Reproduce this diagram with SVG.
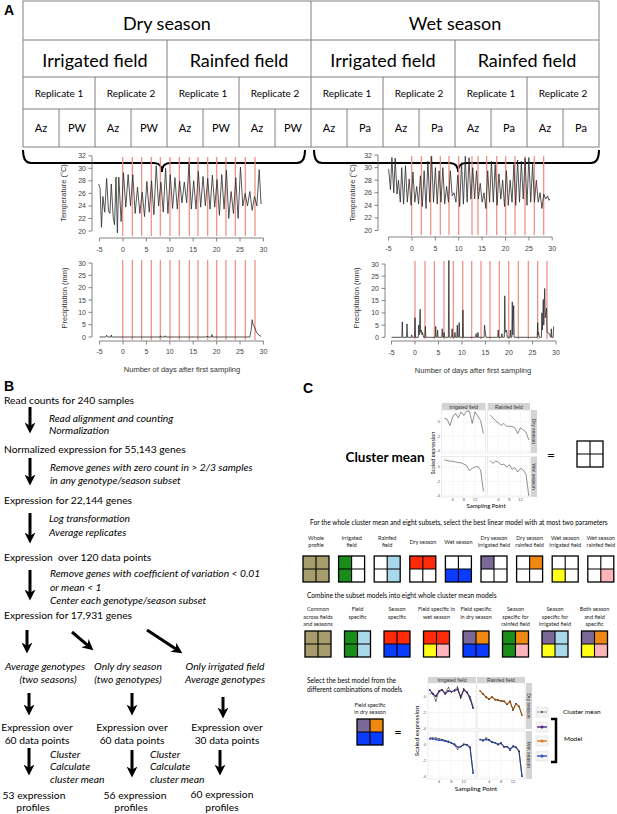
<svg xmlns="http://www.w3.org/2000/svg" width="617" height="814" viewBox="0 0 617 814">
<defs>
<style>
text{font-family:Lato,"Liberation Sans",sans-serif;fill:#000}
.grid-line{stroke:#808080;stroke-width:1;fill:none}
.h{font-size:18px;text-anchor:middle}
.rep{font-size:10px;text-anchor:middle}
.gen{font-size:11px;text-anchor:middle}
.brace{fill:none;stroke:#000;stroke-width:2}
.axis{stroke:#666;stroke-width:0.8;fill:none}
.tkr{font-family:"Liberation Sans",Arial,sans-serif;font-size:7px;fill:#444;text-anchor:end}
.tkm{font-family:"Liberation Sans",Arial,sans-serif;font-size:7px;fill:#444;text-anchor:middle}
.at{font-family:"Liberation Sans",Arial,sans-serif;font-size:7.5px;fill:#333;text-anchor:middle}
.samp{stroke:#f08a7a;stroke-width:1.2}
.data{fill:none;stroke:#2a2a2a;stroke-width:0.8;vector-effect:non-scaling-stroke;stroke-linejoin:round}
.bt{font-size:10.3px}
.bi{font-size:10.3px;font-style:italic}
.bc{font-size:10.3px;text-anchor:middle}
.bic{font-size:10.3px;font-style:italic;text-anchor:middle}
.arrow{stroke:#000;stroke-width:3;fill:none;marker-end:url(#ah)}
.letter{font-family:"Liberation Sans",Arial,sans-serif;font-weight:bold;font-size:14px}
.cs{font-size:6.6px}
.lab{font-size:5.5px;text-anchor:middle;fill:#222}
.kh{fill:#a79d6c}.gr{fill:#1a8c1a}.lb{fill:#a8d8ea}.rd{fill:#ff2a0a}.bl{fill:#0a3cff}
.pu{fill:#7a6898}.or{fill:#ee8810}.ye{fill:#ffff1a}.pk{fill:#ffb3ba}.wh{fill:#fff}
.strip{fill:#d4d4d4}
.panel{fill:#fff;stroke:#d8d8d8;stroke-width:0.5}
.fg{stroke:#ececec;stroke-width:0.5}
.ft{font-family:"Liberation Sans",Arial,sans-serif;font-size:4px;fill:#555}
.fs{font-family:"Liberation Sans",Arial,sans-serif;font-size:5px;fill:#333;text-anchor:middle}
.cm{fill:none;stroke:#444;stroke-width:0.6}
</style>
<marker id="ah" viewBox="0 0 10 10" refX="5" refY="5" markerWidth="11" markerHeight="11" markerUnits="userSpaceOnUse" orient="auto">
<path d="M0,0 L10,5 L0,10 L3,5 z" fill="#000"/>
</marker>
<marker id="dk" viewBox="0 0 2 2" refX="1" refY="1" markerWidth="1.4" markerHeight="1.4" markerUnits="userSpaceOnUse"><circle cx="1" cy="1" r="1" fill="#333"/></marker>
<marker id="dp" viewBox="0 0 2 2" refX="1" refY="1" markerWidth="2" markerHeight="2" markerUnits="userSpaceOnUse"><circle cx="1" cy="1" r="1" fill="#4a2a82"/></marker>
<marker id="do" viewBox="0 0 2 2" refX="1" refY="1" markerWidth="2" markerHeight="2" markerUnits="userSpaceOnUse"><circle cx="1" cy="1" r="1" fill="#e07a1c"/></marker>
<marker id="db" viewBox="0 0 2 2" refX="1" refY="1" markerWidth="2" markerHeight="2" markerUnits="userSpaceOnUse"><circle cx="1" cy="1" r="1" fill="#3450c0"/></marker>
<g id="sqgrid">
<rect x="0" y="0" width="26" height="26" fill="none" stroke="#000" stroke-width="1.3"/>
<path d="M13,0V26M0,13H26" stroke="#000" stroke-width="1.1"/>
</g>
</defs>

<rect x="0" y="0" width="617" height="814" fill="#fff"/>

<!-- ===== Panel A ===== -->
<text class="letter" x="4" y="15">A</text>
<g id="sample-table">
<rect x="23" y="1" width="576" height="146" fill="#fff" class="grid-line"/>
<path class="grid-line" d="M23,40H599M23,77H599M23,109H599M311,1V147M167,40V147M455,40V147M95,77V147M239,77V147M383,77V147M527,77V147M59,109V147M131,109V147M203,109V147M275,109V147M347,109V147M419,109V147M491,109V147M563,109V147"/>
<text class="h" x="167" y="30">Dry season</text>
<text class="h" x="455" y="30">Wet season</text>
<text class="h" x="95" y="67">Irrigated field</text>
<text class="h" x="239" y="67">Rainfed field</text>
<text class="h" x="383" y="67">Irrigated field</text>
<text class="h" x="527" y="67">Rainfed field</text>
<text class="rep" x="59" y="97">Replicate 1</text>
<text class="rep" x="131" y="97">Replicate 2</text>
<text class="rep" x="203" y="97">Replicate 1</text>
<text class="rep" x="275" y="97">Replicate 2</text>
<text class="rep" x="347" y="97">Replicate 1</text>
<text class="rep" x="419" y="97">Replicate 2</text>
<text class="rep" x="491" y="97">Replicate 1</text>
<text class="rep" x="563" y="97">Replicate 2</text>
<text class="gen" x="41" y="132">Az</text><text class="gen" x="77" y="132">PW</text>
<text class="gen" x="113" y="132">Az</text><text class="gen" x="149" y="132">PW</text>
<text class="gen" x="185" y="132">Az</text><text class="gen" x="221" y="132">PW</text>
<text class="gen" x="257" y="132">Az</text><text class="gen" x="293" y="132">PW</text>
<text class="gen" x="329" y="132">Az</text><text class="gen" x="365" y="132">Pa</text>
<text class="gen" x="401" y="132">Az</text><text class="gen" x="437" y="132">Pa</text>
<text class="gen" x="473" y="132">Az</text><text class="gen" x="509" y="132">Pa</text>
<text class="gen" x="545" y="132">Az</text><text class="gen" x="581" y="132">Pa</text>
</g>
<g id="braces">
<path class="brace" d="M23,150 Q23,163 31,163 L154,163 Q162,163 162,172 Q162,163 170,163 L297,163 Q305,163 305,150"/>
<path class="brace" d="M314,150 Q314,163 322,163 L450,163 Q458,163 458,172 Q458,163 466,163 L591,163 Q599,163 599,150"/>
</g>

<!-- Left temperature plot -->
<g id="dry-temperature">
<path class="samp" d="M122.7,157V236M132.3,157V236M141.7,157V236M151.3,157V236M160.3,157V236M170,157V236M179.3,157V236M189.3,157V236M198,157V236M207.7,157V236M216.7,157V236M226,157V236M235.3,157V236M245.3,157V236M255,157V236"/>
<g transform="translate(123,231) scale(4.68,-6.27)">
<polyline class="data" points="-5.2,7.5 -4.9,6.8 -4.6,0.6 -4.3,5.5 -3.9,3.0 -3.5,8.4 -3.1,3.2 -2.8,2.8 -2.5,7.5 -2.1,2.2 -1.8,1.0 -1.5,8.6 -1.2,-0.3 -0.9,8.6 -0.4,1.5 0.1,9.3 0.6,3.8 1.1,9.0 1.6,4.0 2.1,9.0 2.6,2.8 3.1,7.0 3.6,2.8 4.1,6.2 4.6,2.3 5.1,7.9 5.6,3.0 6.1,8.0 6.6,2.6 7.1,10.4 7.6,4.0 8.1,7.8 8.6,3.0 9.1,10.0 9.6,2.8 10.1,9.0 10.6,3.6 11.1,8.5 11.6,3.5 12.1,8.0 12.6,4.5 13.1,7.8 13.6,4.5 14.1,10.7 14.6,3.5 15.1,8.0 15.6,3.5 16.1,9.5 16.6,3.8 17.1,8.7 17.6,4.0 18.1,8.4 18.6,3.5 19.1,8.9 19.6,3.8 20.1,8.2 20.6,2.5 21.1,9.0 21.6,3.5 22.1,9.7 22.6,2.0 23.1,6.3 23.6,2.8 24.1,8.5 24.6,2.0 25.1,10.2 25.6,4.0 26.1,6.0 26.6,4.0 27.1,6.3 27.6,3.3 28.1,5.5 28.6,4.0 29.1,9.8 29.5,4.3"/>
</g>
<path class="axis" d="M92,231V155.8M92,231h-3.5M92,218.5h-3.5M92,205.9h-3.5M92,193.4h-3.5M92,180.8h-3.5M92,168.3h-3.5M92,155.8h-3.5"/>
<text class="tkr" x="86" y="233.5">20</text><text class="tkr" x="86" y="221">22</text><text class="tkr" x="86" y="208.4">24</text><text class="tkr" x="86" y="195.9">26</text><text class="tkr" x="86" y="183.3">28</text><text class="tkr" x="86" y="170.8">30</text><text class="tkr" x="86" y="158.3">32</text>
<path class="axis" d="M99.6,238H263.4M99.6,238v3.5M123,238v3.5M146.4,238v3.5M169.8,238v3.5M193.2,238v3.5M216.6,238v3.5M240,238v3.5M263.4,238v3.5"/>
<text class="tkm" x="99.6" y="252">-5</text><text class="tkm" x="123" y="252">0</text><text class="tkm" x="146.4" y="252">5</text><text class="tkm" x="169.8" y="252">10</text><text class="tkm" x="193.2" y="252">15</text><text class="tkm" x="216.6" y="252">20</text><text class="tkm" x="240" y="252">25</text><text class="tkm" x="263.4" y="252">30</text>
<text class="at" transform="translate(66,193) rotate(-90)">Temperature (°C)</text>
</g>

<!-- Left precipitation plot -->
<g id="dry-precipitation">
<path class="samp" d="M122.7,260V340M132.3,260V340M141.7,260V340M151.3,260V340M160.3,260V340M170,260V340M179.3,260V340M189.3,260V340M198,260V340M207.7,260V340M216.7,260V340M226,260V340M235.3,260V340M245.3,260V340M255,260V340"/>
<g transform="translate(123,337) scale(4.68,-2.47)">
<polyline class="data" points="-5,0 -3.7,0 -3.5,0.7 -3.3,0 -2.6,0 -2.5,0.8 -2.4,0 7.9,0 8.0,0.5 8.1,0 8.9,0 9.0,0.5 9.1,0 17.9,0 18,0.4 18.1,0 18.9,0 19.0,1.0 19.1,0 27.1,0 27.4,3 27.6,7 27.8,5 28.1,4 28.5,2 29.0,0.8 29.5,0.2"/>
</g>
<path class="axis" d="M92,337V263M92,337h-3.5M92,324.7h-3.5M92,312.3h-3.5M92,300h-3.5M92,287.7h-3.5M92,275.3h-3.5M92,263h-3.5"/>
<text class="tkr" x="86" y="339.5">0</text><text class="tkr" x="86" y="327.2">5</text><text class="tkr" x="86" y="314.8">10</text><text class="tkr" x="86" y="302.5">15</text><text class="tkr" x="86" y="290.2">20</text><text class="tkr" x="86" y="277.8">25</text><text class="tkr" x="86" y="265.5">30</text>
<path class="axis" d="M99.6,341H263.4M99.6,341v3.5M123,341v3.5M146.4,341v3.5M169.8,341v3.5M193.2,341v3.5M216.6,341v3.5M240,341v3.5M263.4,341v3.5"/>
<text class="tkm" x="99.6" y="354">-5</text><text class="tkm" x="123" y="354">0</text><text class="tkm" x="146.4" y="354">5</text><text class="tkm" x="169.8" y="354">10</text><text class="tkm" x="193.2" y="354">15</text><text class="tkm" x="216.6" y="354">20</text><text class="tkm" x="240" y="354">25</text><text class="tkm" x="263.4" y="354">30</text>
<text class="at" transform="translate(67,298) rotate(-90)">Precipitation (mm)</text>
<text class="at" x="182" y="372">Number of days after first sampling</text>
</g>

<!-- Right temperature plot -->
<g id="wet-temperature">
<path class="samp" d="M411.7,156V235M421.3,156V235M430.7,156V235M440.3,156V235M449,156V235M458.7,156V235M472,156V235M478,156V235M486.7,156V235M496.7,156V235M505.7,156V235M515,156V235M525,156V235M534.3,156V235M543.7,156V235"/>
<g transform="translate(412,230.5) scale(4.674,-6.29)">
<polyline class="data" points="-5,9.8 -4.6,6.5 -4.3,11.6 -3.9,6.0 -3.6,11.5 -3.2,5.8 -2.9,8.0 -2.5,4.5 -2.2,10.0 -1.8,4.2 -1.4,10.3 -1.0,4.5 -0.6,8.2 -0.2,4.0 0.2,9.3 0.6,4.5 1.0,7.0 1.4,4.2 1.8,8.7 2.2,3.8 2.6,9.5 3.0,3.5 3.4,11.0 3.8,4.5 4.2,11.8 4.6,4.5 5.0,10.0 5.4,4.2 5.8,9.5 6.2,4.5 6.6,10.0 7.0,4.2 7.4,7.0 7.8,4.5 8.2,9.5 8.6,5.5 9.0,6.0 9.4,4.5 9.8,8.8 10.2,3.8 10.6,10.8 11.0,4.2 11.4,11.8 11.8,4.5 12.2,11.6 12.6,5.0 13.0,10.0 13.4,5.0 13.8,9.5 14.2,5.0 14.6,7.5 15.0,4.5 15.4,6.0 15.8,3.5 16.2,9.5 16.6,4.5 17.0,11.0 17.4,4.5 17.8,10.5 18.2,4.0 18.6,9.0 19.0,5.0 19.4,8.0 19.8,3.8 20.2,9.5 20.6,4.0 21.0,8.0 21.4,4.5 21.8,10.5 22.2,4.0 22.6,11.2 23.0,4.5 23.4,11.0 23.8,5.0 24.2,11.5 24.6,4.0 25.0,11.6 25.4,4.5 25.8,10.5 26.2,4.5 26.6,8.0 27.0,4.5 27.4,6.0 27.8,3.5 28.2,5.8 28.6,5.0 29.0,5.5 29.3,4.8 29.5,5.0"/>
</g>
<path class="axis" d="M378,230.5V155M378,230.5h-3.5M378,217.9h-3.5M378,205.3h-3.5M378,192.7h-3.5M378,180.2h-3.5M378,167.6h-3.5M378,155h-3.5"/>
<text class="tkr" x="372" y="233">20</text><text class="tkr" x="372" y="220.4">22</text><text class="tkr" x="372" y="207.8">24</text><text class="tkr" x="372" y="195.2">26</text><text class="tkr" x="372" y="182.7">28</text><text class="tkr" x="372" y="170.1">30</text><text class="tkr" x="372" y="157.5">32</text>
<path class="axis" d="M388.6,237H552.2M388.6,237v3.5M412,237v3.5M435.4,237v3.5M458.7,237v3.5M482.1,237v3.5M505.5,237v3.5M528.9,237v3.5M552.2,237v3.5"/>
<text class="tkm" x="388.6" y="251">-5</text><text class="tkm" x="412" y="251">0</text><text class="tkm" x="435.4" y="251">5</text><text class="tkm" x="458.7" y="251">10</text><text class="tkm" x="482.1" y="251">15</text><text class="tkm" x="505.5" y="251">20</text><text class="tkm" x="528.9" y="251">25</text><text class="tkm" x="552.2" y="251">30</text>
<text class="at" transform="translate(355,193) rotate(-90)">Temperature (°C)</text>
</g>

<!-- Right precipitation plot -->
<g id="wet-precipitation">
<path class="samp" d="M415,261V339M425,261V339M434.3,261V339M444,261V339M453.3,261V339M462.7,261V339M471.7,261V339M481,261V339M490,261V339M499.3,261V339M508.7,261V339M518.3,261V339M528.3,261V339M537.7,261V339M547,261V339"/>
<g transform="translate(415,337.3) scale(4.7,-2.44)">
<polyline class="data" points="-5,0 -2.8,0 -2.7,6.3 -2.6,0 -1.8,0 -1.7,5.5 -1.6,0 -0.8,0 -0.7,1 -0.6,0 -0.1,0 0,8 0.1,0 0.7,0 0.8,5 0.9,1 1.1,11.5 1.2,2 1.3,3 1.5,1 1.6,2 1.8,0 2.1,0 2.2,4.5 2.3,0 4.3,0 4.4,4.5 4.5,0 4.7,0 4.8,3 4.9,0 5.7,0 5.8,3.5 5.9,0 6.1,0 6.2,2 6.3,0 7.1,0 7.2,31.5 7.3,0 7.8,0 7.9,3.5 8.0,0 8.4,0 8.5,2 8.6,0 8.9,0 9.0,5 9.1,0 9.3,0 9.4,6 9.5,0 10.1,0 10.2,11.2 10.3,0 12.9,0 13.0,1.5 13.1,0 13.3,0 13.4,2 13.5,0 14.7,0 14.8,5 14.9,3 15.1,0 17.6,0 17.7,3 17.8,0 18.4,0 18.5,1.5 18.6,0 19.0,0 19.1,17 19.2,2 19.5,3 19.6,0 20.2,0 20.3,3 20.4,0 20.6,0 20.7,14.5 20.8,1 21.0,13 21.1,0 26.0,0 26.1,6 26.2,1 26.3,2 26.4,0 26.9,0 27.0,10 27.1,3 27.3,15.5 27.4,5 27.6,20 27.7,8 28.0,12 28.1,2 28.6,1.5 28.9,0 29.0,3.5 29.1,0 29.4,0 29.5,4.5"/>
</g>
<path class="axis" d="M385,337.3V264M385,337.3h-3.5M385,325.1h-3.5M385,312.9h-3.5M385,300.6h-3.5M385,288.4h-3.5M385,276.2h-3.5M385,264h-3.5"/>
<text class="tkr" x="379" y="339.8">0</text><text class="tkr" x="379" y="327.6">5</text><text class="tkr" x="379" y="315.4">10</text><text class="tkr" x="379" y="303.1">15</text><text class="tkr" x="379" y="290.9">20</text><text class="tkr" x="379" y="278.7">25</text><text class="tkr" x="379" y="266.5">30</text>
<path class="axis" d="M391.5,341H556M391.5,341v3.5M415,341v3.5M438.5,341v3.5M462,341v3.5M485.5,341v3.5M509,341v3.5M532.5,341v3.5M556,341v3.5"/>
<text class="tkm" x="391.5" y="355">-5</text><text class="tkm" x="415" y="355">0</text><text class="tkm" x="438.5" y="355">5</text><text class="tkm" x="462" y="355">10</text><text class="tkm" x="485.5" y="355">15</text><text class="tkm" x="509" y="355">20</text><text class="tkm" x="532.5" y="355">25</text><text class="tkm" x="556" y="355">30</text>
<text class="at" transform="translate(359,298) rotate(-90)">Precipitation (mm)</text>
<text class="at" x="473" y="373">Number of days after first sampling</text>
</g>

<!-- ===== Panel B ===== -->
<text class="letter" x="4" y="391">B</text>
<g id="b-read-counts"><text class="bt" x="4" y="404">Read counts for 240 samples</text></g>
<g id="b-normalized"><text class="bt" x="4" y="453">Normalized expression for 55,143 genes</text></g>
<g id="b-22144"><text class="bt" x="4" y="504">Expression for 22,144 genes</text></g>
<g id="b-120points"><text class="bt" x="4" y="561">Expression&#160; over 120 data points</text></g>
<g id="b-17931"><text class="bt" x="4" y="619">Expression for 17,931 genes</text></g>
<g id="b-avg-genotypes"><text class="bic" x="45" y="670">Average genotypes</text><text class="bic" x="48" y="683">(two seasons)</text></g>
<g id="b-only-dry"><text class="bic" x="128" y="670">Only dry season</text><text class="bic" x="128" y="683">(two genotypes)</text></g>
<g id="b-only-irrigated"><text class="bic" x="225" y="670">Only irrigated field</text><text class="bic" x="225" y="683">Average genotypes</text></g>
<g id="b-60a"><text class="bc" x="37" y="731">Expression over</text><text class="bc" x="37" y="744">60 data points</text></g>
<g id="b-60b"><text class="bc" x="132" y="731">Expression over</text><text class="bc" x="132" y="744">60 data points</text></g>
<g id="b-30"><text class="bc" x="227" y="731">Expression over</text><text class="bc" x="227" y="744">30 data points</text></g>
<g id="b-53"><text class="bc" x="34" y="799">53 expression</text><text class="bc" x="33" y="811">profiles</text></g>
<g id="b-56"><text class="bc" x="135" y="799">56 expression</text><text class="bc" x="131" y="811">profiles</text></g>
<g id="b-60"><text class="bc" x="222" y="798">60 expression</text><text class="bc" x="222" y="811">profiles</text></g>

<g id="b-connectors">
<line class="arrow" x1="30" y1="407" x2="30" y2="428"/>
<line class="arrow" x1="30" y1="458" x2="30" y2="480"/>
<line class="arrow" x1="30" y1="513" x2="30" y2="538"/>
<line class="arrow" x1="30" y1="570" x2="30" y2="595"/>
<line class="arrow" x1="27" y1="630" x2="27" y2="648"/>
<line class="arrow" x1="72" y1="632" x2="89.2" y2="646.7"/>
<line class="arrow" x1="147" y1="630" x2="177.8" y2="650.3"/>
<line class="arrow" x1="29" y1="693" x2="29" y2="710"/>
<line class="arrow" x1="132" y1="693" x2="132" y2="710"/>
<line class="arrow" x1="223" y1="697" x2="223" y2="713"/>
<line class="arrow" x1="29" y1="748" x2="29" y2="770"/>
<line class="arrow" x1="132" y1="750" x2="132" y2="772"/>
<line class="arrow" x1="220" y1="750" x2="220" y2="770"/>
<g id="b-step-labels">
<text class="bi" x="49" y="422">Read alignment and counting</text>
<text class="bi" x="49" y="434">Normalization</text>
<text class="bi" x="50" y="471">Remove genes with zero count in &gt; 2/3 samples</text>
<text class="bi" x="50" y="484">in any genotype/season subset</text>
<text class="bi" x="49" y="522">Log transformation</text>
<text class="bi" x="49" y="536">Average replicates</text>
<text class="bi" x="50" y="577">Remove genes with coefficient of variation &lt; 0.01</text>
<text class="bi" x="50" y="591">or mean &lt; 1</text>
<text class="bi" x="50" y="604">Center each genotype/season subset</text>
<text class="bi" x="50" y="758">Cluster</text>
<text class="bi" x="50" y="770">Calculate</text>
<text class="bi" x="50" y="783">cluster mean</text>
<text class="bi" x="150" y="758">Cluster</text>
<text class="bi" x="150" y="770">Calculate</text>
<text class="bi" x="150" y="783">cluster mean</text>
</g>
</g>

<!-- ===== Panel C ===== -->
<text class="letter" x="303" y="393">C</text>
<g id="c-cluster-mean-label"><text x="385" y="462" font-size="13.5" font-weight="bold" text-anchor="middle">Cluster mean</text></g>

<g id="c-facet-top">
<rect class="strip" x="441.7" y="403" width="44" height="7"/>
<rect class="strip" x="487.7" y="403" width="42.3" height="7"/>
<rect class="strip" x="531" y="410" width="6" height="43"/>
<rect class="strip" x="531" y="456.5" width="6" height="40.5"/>
<rect class="panel" x="441.7" y="410" width="44" height="43"/>
<rect class="panel" x="487.7" y="410" width="42.3" height="43"/>
<rect class="panel" x="441.7" y="456.5" width="44" height="40.5"/>
<rect class="panel" x="487.7" y="456.5" width="42.3" height="40.5"/>
<path class="fg" d="M452.7,410V453M463.8,410V453M475,410V453M498.3,410V453M509.4,410V453M520.4,410V453M452.7,456.5V497M463.8,456.5V497M475,456.5V497M498.3,456.5V497M509.4,456.5V497M520.4,456.5V497M441.7,422H530M441.7,436.4H530M441.7,450.8H530M441.7,467H530M441.7,481.4H530M441.7,495.8H530"/>
<text class="fs" x="463.7" y="408.7">Irrigated field</text>
<text class="fs" x="508.8" y="408.7">Rainfed field</text>
<text class="fs" transform="translate(532.3,431.5) rotate(90)">Dry season</text>
<text class="fs" transform="translate(532.3,476.7) rotate(90)">Wet season</text>
<text class="ft" x="440" y="423.4" text-anchor="end">0</text>
<text class="ft" x="440" y="437.8" text-anchor="end">-2</text>
<text class="ft" x="440" y="452" text-anchor="end">-4</text>
<text class="ft" x="440" y="468.4" text-anchor="end">0</text>
<text class="ft" x="440" y="482.8" text-anchor="end">-2</text>
<text class="ft" x="440" y="497" text-anchor="end">-4</text>
<text class="ft" x="452.7" y="501" text-anchor="middle">4</text>
<text class="ft" x="463.8" y="501" text-anchor="middle">8</text>
<text class="ft" x="475" y="501" text-anchor="middle">12</text>
<text class="ft" x="498.3" y="501" text-anchor="middle">4</text>
<text class="ft" x="509.4" y="501" text-anchor="middle">8</text>
<text class="ft" x="520.4" y="501" text-anchor="middle">12</text>
<text x="486" y="507.5" font-family="Liberation Sans, Arial, sans-serif" font-size="6" fill="#333" text-anchor="middle">Sampling Point</text>
<text font-family="Liberation Sans, Arial, sans-serif" font-size="5.5" fill="#333" text-anchor="middle" transform="translate(434.5,453) rotate(-90)">Scaled expression</text>
<polyline class="cm" points="444.3,418.4 447.1,419.1 449.9,425.6 452.7,417 455.5,413.4 458.3,417.7 461,411.9 463.8,415.5 466.6,411.2 469.4,411.2 472.2,423.4 475,411.9 477.8,416.2 480.6,420.6 483.4,433.5"/>
<polyline class="cm" points="490,414.8 492.8,417.7 495.5,420.6 498.3,422.7 501.1,425.6 503.8,423.4 506.6,426.3 509.4,426.3 512.1,426.3 514.9,427.8 517.7,433.5 520.4,427.8 523.2,429.9 526,432.1 528.8,440"/>
<polyline class="cm" points="444.3,459.8 447.1,460.5 449.9,461.2 452.7,461.2 455.5,462 458.3,462.7 461,462.7 463.8,464.1 466.6,465.6 469.4,470.6 472.2,468.4 475,467 477.8,466.3 480.6,469.9 483.4,491.5"/>
<polyline class="cm" points="490,460.5 492.8,463.4 495.5,461.2 498.3,462 501.1,464.8 503.8,464.1 506.6,467 509.4,464.8 512.1,469.2 514.9,467.7 517.7,472 520.4,468.4 523.2,469.9 526,474.2 528.8,495.8"/>
</g>

<g id="c-equals-top"><text x="551" y="460" font-size="14" text-anchor="middle">=</text></g>
<g id="c-empty-grid"><rect x="577" y="441" width="26" height="26" fill="#fff"/><use href="#sqgrid" x="577" y="441"/></g>

<g id="c-instruction-1"><text class="cs" x="310" y="525">For the whole cluster mean and eight subsets, select the best linear model with at most two parameters</text></g>

<!-- Row 1 subset squares -->
<g id="c-whole-profile"><text class="lab" x="316" y="540">Whole</text><text class="lab" x="316" y="546.5">profile</text>
<g transform="translate(303,556)"><rect class="kh" width="26" height="26"/><use href="#sqgrid"/></g></g>
<g id="c-irrigated"><text class="lab" x="351.6" y="540">Irrigated</text><text class="lab" x="351.6" y="546.5">field</text>
<g transform="translate(338.6,556)"><rect class="wh" width="26" height="26"/><rect class="gr" width="13" height="26"/><use href="#sqgrid"/></g></g>
<g id="c-rainfed"><text class="lab" x="387.2" y="540">Rainfed</text><text class="lab" x="387.2" y="546.5">field</text>
<g transform="translate(374.2,556)"><rect class="wh" width="26" height="26"/><rect class="lb" x="13" width="13" height="26"/><use href="#sqgrid"/></g></g>
<g id="c-dry"><text class="lab" x="422.8" y="543.5">Dry season</text>
<g transform="translate(409.8,556)"><rect class="wh" width="26" height="26"/><rect class="rd" width="26" height="13"/><use href="#sqgrid"/></g></g>
<g id="c-wet"><text class="lab" x="458.4" y="543.5">Wet season</text>
<g transform="translate(445.4,556)"><rect class="wh" width="26" height="26"/><rect class="bl" y="13" width="26" height="13"/><use href="#sqgrid"/></g></g>
<g id="c-dry-irrigated"><text class="lab" x="494" y="540">Dry season</text><text class="lab" x="494" y="546.5">irrigated field</text>
<g transform="translate(481,556)"><rect class="wh" width="26" height="26"/><rect class="pu" width="13" height="13"/><use href="#sqgrid"/></g></g>
<g id="c-dry-rainfed"><text class="lab" x="529.6" y="540">Dry season</text><text class="lab" x="529.6" y="546.5">rainfed field</text>
<g transform="translate(516.6,556)"><rect class="wh" width="26" height="26"/><rect class="or" x="13" width="13" height="13"/><use href="#sqgrid"/></g></g>
<g id="c-wet-irrigated"><text class="lab" x="565.2" y="540">Wet season</text><text class="lab" x="565.2" y="546.5">irrigated field</text>
<g transform="translate(552.2,556)"><rect class="wh" width="26" height="26"/><rect class="ye" y="13" width="13" height="13"/><use href="#sqgrid"/></g></g>
<g id="c-wet-rainfed"><text class="lab" x="600.8" y="540">Wet season</text><text class="lab" x="600.8" y="546.5">rainfed field</text>
<g transform="translate(587.8,556)"><rect class="wh" width="26" height="26"/><rect class="pk" x="13" y="13" width="13" height="13"/><use href="#sqgrid"/></g></g>

<g id="c-instruction-2"><text class="cs" x="307" y="598">Combine the subset models into eight whole cluster mean models</text></g>

<!-- Row 2 combined models -->
<g id="c-common"><text class="lab" x="318" y="611">Common</text><text class="lab" x="318" y="618.5">across fields</text><text class="lab" x="318" y="626">and seasons</text>
<g transform="translate(305,631)"><rect class="kh" width="26" height="26"/><use href="#sqgrid"/></g></g>
<g id="c-field-specific"><text class="lab" x="357.5" y="611">Field</text><text class="lab" x="357.5" y="618.5">specific</text>
<g transform="translate(344.5,631)"><rect class="gr" width="13" height="26"/><rect class="lb" x="13" width="13" height="26"/><use href="#sqgrid"/></g></g>
<g id="c-season-specific"><text class="lab" x="397" y="611">Season</text><text class="lab" x="397" y="618.5">specific</text>
<g transform="translate(384,631)"><rect class="rd" width="26" height="13"/><rect class="bl" y="13" width="26" height="13"/><use href="#sqgrid"/></g></g>
<g id="c-field-wet"><text class="lab" x="436.5" y="611">Field specific in</text><text class="lab" x="436.5" y="618.5">wet season</text>
<g transform="translate(423.5,631)"><rect class="rd" width="26" height="13"/><rect class="ye" y="13" width="13" height="13"/><rect class="pk" x="13" y="13" width="13" height="13"/><use href="#sqgrid"/></g></g>
<g id="c-field-dry"><text class="lab" x="476" y="611">Field specific</text><text class="lab" x="476" y="618.5">in dry season</text>
<g transform="translate(463,631)"><rect class="pu" width="13" height="13"/><rect class="or" x="13" width="13" height="13"/><rect class="bl" y="13" width="26" height="13"/><use href="#sqgrid"/></g></g>
<g id="c-season-rainfed"><text class="lab" x="515.5" y="611">Season</text><text class="lab" x="515.5" y="618.5">specific for</text><text class="lab" x="515.5" y="626">rainfed field</text>
<g transform="translate(502.5,631)"><rect class="gr" width="13" height="26"/><rect class="or" x="13" width="13" height="13"/><rect class="pk" x="13" y="13" width="13" height="13"/><use href="#sqgrid"/></g></g>
<g id="c-season-irrigated"><text class="lab" x="555" y="611">Season</text><text class="lab" x="555" y="618.5">specific for</text><text class="lab" x="555" y="626">irrigated field</text>
<g transform="translate(542,631)"><rect class="pu" width="13" height="13"/><rect class="ye" y="13" width="13" height="13"/><rect class="lb" x="13" width="13" height="26"/><use href="#sqgrid"/></g></g>
<g id="c-both"><text class="lab" x="594.5" y="611">Both season</text><text class="lab" x="594.5" y="618.5">and field</text><text class="lab" x="594.5" y="626">specific</text>
<g transform="translate(581.5,631)"><rect class="pu" width="13" height="13"/><rect class="or" x="13" width="13" height="13"/><rect class="ye" y="13" width="13" height="13"/><rect class="pk" x="13" y="13" width="13" height="13"/><use href="#sqgrid"/></g></g>

<g id="c-instruction-3"><text class="cs" x="307" y="683">Select the best model from the</text><text class="cs" x="307" y="692">different combinations of models</text></g>

<g id="c-best-model"><text class="lab" x="370" y="707">Field specific</text><text class="lab" x="370" y="714">in dry season</text>
<g transform="translate(357,719)"><rect class="pu" width="13" height="13"/><rect class="or" x="13" width="13" height="13"/><rect class="bl" y="13" width="26" height="13"/><use href="#sqgrid"/></g></g>
<g id="c-equals-bottom"><text x="398" y="737" font-size="13" text-anchor="middle">=</text></g>

<g id="c-facet-bottom">
<rect class="strip" x="428" y="677" width="48" height="6"/>
<rect class="strip" x="477" y="677" width="48" height="6"/>
<rect class="strip" x="526" y="683" width="6" height="46"/>
<rect class="strip" x="526" y="731" width="6" height="48"/>
<rect class="panel" x="428" y="683" width="48" height="46"/>
<rect class="panel" x="477" y="683" width="48" height="46"/>
<rect class="panel" x="428" y="731" width="48" height="48"/>
<rect class="panel" x="477" y="731" width="48" height="48"/>
<path class="fg" d="M439,683V729M451.4,683V729M463.8,683V729M489,683V729M501,683V729M513,683V729M439,731V779M451.4,731V779M463.8,731V779M489,731V779M501,731V779M513,731V779M428,697H525M428,712.6H525M428,728.2H525M428,745H525M428,760.6H525M428,776.2H525"/>
<text class="fs" x="452" y="681.8" font-size="5.5">Irrigated field</text>
<text class="fs" x="501" y="681.8" font-size="5.5">Rainfed field</text>
<text class="fs" font-size="5.5" transform="translate(527.2,706) rotate(90)">Dry season</text>
<text class="fs" font-size="5.5" transform="translate(527.2,755) rotate(90)">Wet season</text>
<text class="ft" x="426" y="698.4" text-anchor="end">0</text>
<text class="ft" x="426" y="714" text-anchor="end">-2</text>
<text class="ft" x="426" y="729.6" text-anchor="end">-4</text>
<text class="ft" x="426" y="746.4" text-anchor="end">0</text>
<text class="ft" x="426" y="762" text-anchor="end">-2</text>
<text class="ft" x="426" y="777.6" text-anchor="end">-4</text>
<text class="ft" x="439" y="782.8" text-anchor="middle">4</text>
<text class="ft" x="451.4" y="782.8" text-anchor="middle">8</text>
<text class="ft" x="463.8" y="782.8" text-anchor="middle">12</text>
<text class="ft" x="489" y="782.8" text-anchor="middle">4</text>
<text class="ft" x="501" y="782.8" text-anchor="middle">8</text>
<text class="ft" x="513" y="782.8" text-anchor="middle">12</text>
<text x="476" y="790.5" font-family="Liberation Sans, Arial, sans-serif" font-size="6.5" fill="#333" text-anchor="middle">Sampling Point</text>
<text font-family="Liberation Sans, Arial, sans-serif" font-size="6.5" fill="#333" text-anchor="middle" transform="translate(418.5,731) rotate(-90)">Scaled expression</text>
<polyline fill="none" stroke="#4a2a82" stroke-width="1.2" marker-start="url(#dp)" marker-mid="url(#dp)" marker-end="url(#dp)" points="429.7,690 432.8,693.9 435.9,696.2 439,691.5 442.1,690 445.2,693.9 448.3,690.8 451.4,691.5 454.5,690.8 457.6,689.2 460.7,697 463.8,690 466.9,692.3 470,698.6 473.1,707.9"/>
<polyline fill="none" stroke="#333" stroke-width="0.6" marker-mid="url(#dk)" points="429.7,693.9 432.8,693.1 435.9,700.9 439,690.8 442.1,689.2 445.2,693.1 448.3,687.6 451.4,692.3 454.5,690 457.6,686.9 460.7,698.6 463.8,688.4 466.9,692.3 470,696.2 473.1,707.1"/>
<polyline fill="none" stroke="#e07a1c" stroke-width="1.2" marker-start="url(#do)" marker-mid="url(#do)" marker-end="url(#do)" points="480,690.8 483,693.9 486,697 489,699.3 492,697 495,699.3 498,700.1 501,700.9 504,700.9 507,704 510,701.7 513,709.5 516,704 519,706.4 522,714.9"/>
<polyline fill="none" stroke="#333" stroke-width="0.6" marker-mid="url(#dk)" points="480,690.8 483,693.9 486,697 489,699.3 492,697 495,700.1 498,700.1 501,700.9 504,701.7 507,704.8 510,700.9 513,710.3 516,703.2 519,706.4 522,715.7"/>
<polyline fill="none" stroke="#3450c0" stroke-width="1.2" marker-start="url(#db)" marker-mid="url(#db)" marker-end="url(#db)" points="429.7,738.8 432.8,738.8 435.9,739.5 439,740.3 442.1,740.3 445.2,741.1 448.3,741.9 451.4,742.7 454.5,744.2 457.6,747.3 460.7,746.6 463.8,744.2 466.9,745 470,747.3 473.1,773.1"/>
<polyline fill="none" stroke="#333" stroke-width="0.6" marker-mid="url(#dk)" points="429.7,737.2 432.8,738 435.9,738 439,738.8 442.1,739.5 445.2,740.3 448.3,741.1 451.4,743.4 454.5,745 457.6,749.7 460.7,746.6 463.8,745 466.9,744.2 470,747.3 473.1,772.3"/>
<polyline fill="none" stroke="#3450c0" stroke-width="1.2" marker-start="url(#db)" marker-mid="url(#db)" marker-end="url(#db)" points="480,739.5 483,740.3 486,739.5 489,740.3 492,741.9 495,742.7 498,744.2 501,743.4 504,746.6 507,746.6 510,748.9 513,746.6 516,747.3 519,751.2 522,776.2"/>
<polyline fill="none" stroke="#333" stroke-width="0.6" marker-mid="url(#dk)" points="480,738.8 483,741.1 486,738 489,739.5 492,742.7 495,742.7 498,745 501,742.7 504,747.3 507,746.6 510,750.5 513,745.8 516,747.3 519,751.2 522,776.2"/>
</g>

<g id="c-legend">
<rect x="536" y="707" width="12" height="10" fill="#f4f4f4" stroke="#dcdcdc" stroke-width="0.5"/>
<path d="M537,712H547" stroke="#555" stroke-width="0.6"/><circle cx="542" cy="712" r="0.9" fill="#333"/>
<rect x="536" y="722" width="12" height="10" fill="#f4f4f4" stroke="#dcdcdc" stroke-width="0.5"/>
<path d="M537,727H547" stroke="#4a2a82" stroke-width="1.4"/><circle cx="542" cy="727" r="1.5" fill="#4a2a82"/>
<rect x="536" y="736" width="12" height="10" fill="#f4f4f4" stroke="#dcdcdc" stroke-width="0.5"/>
<path d="M537,741H547" stroke="#e07a1c" stroke-width="1.4"/><circle cx="542" cy="741" r="1.5" fill="#e07a1c"/>
<rect x="536" y="751" width="12" height="10" fill="#f4f4f4" stroke="#dcdcdc" stroke-width="0.5"/>
<path d="M537,756H547" stroke="#3450c0" stroke-width="1.4"/><circle cx="542" cy="756" r="1.5" fill="#3450c0"/>
<path d="M551,719H556V762H551" fill="none" stroke="#000" stroke-width="2.5"/>
<text x="563" y="714" font-size="6.5">Cluster mean</text>
<text x="564" y="741" font-size="6.5">Model</text>
</g>
</svg>
